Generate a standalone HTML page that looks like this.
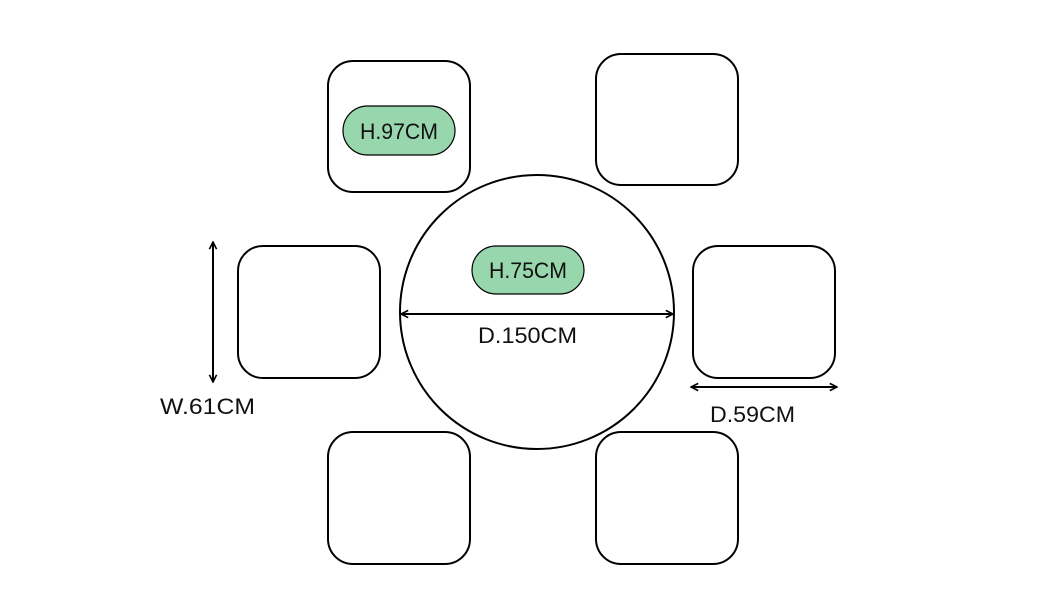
<!DOCTYPE html>
<html><head><style>html,body{margin:0;padding:0;background:#fff}</style></head><body>
<svg width="1056" height="600" viewBox="0 0 1056 600" xmlns="http://www.w3.org/2000/svg">
<defs>
<marker id="a" viewBox="0 0 10 10" refX="9" refY="5" markerWidth="9" markerHeight="9" orient="auto-start-reverse" markerUnits="userSpaceOnUse">
<path d="M1,1 L9,5 L1,9" fill="none" stroke="#000" stroke-width="1.8"/>
</marker>
</defs>
<g fill="#fff" stroke="#000" stroke-width="2">
<rect x="328" y="61" width="142" height="131" rx="25"/>
<rect x="596" y="54" width="142" height="131" rx="25"/>
<rect x="238" y="246" width="142" height="132" rx="25"/>
<rect x="693" y="246" width="142" height="132" rx="25"/>
<rect x="328" y="432" width="142" height="132" rx="25"/>
<rect x="596" y="432" width="142" height="132" rx="25"/>
<circle cx="537" cy="312" r="137"/>
</g>
<g fill="#98d7ad" stroke="#000" stroke-width="1.2">
<rect x="343" y="106" width="112" height="49" rx="24.5"/>
<rect x="472" y="246" width="112" height="48" rx="24"/>
</g>
<g stroke="#000" stroke-width="2" fill="none">
<line x1="401" y1="314" x2="673" y2="314" marker-start="url(#a)" marker-end="url(#a)"/>
<line x1="213" y1="242" x2="213" y2="382" marker-start="url(#a)" marker-end="url(#a)"/>
<line x1="691" y1="387" x2="837" y2="387" marker-start="url(#a)" marker-end="url(#a)"/>
</g>
<g font-family="Liberation Sans, sans-serif" font-size="22" fill="#111">
<text x="360" y="139" textLength="78" lengthAdjust="spacingAndGlyphs">H.97CM</text>
<text x="489" y="278" textLength="78" lengthAdjust="spacingAndGlyphs">H.75CM</text>
<text x="478" y="343" textLength="99" lengthAdjust="spacingAndGlyphs">D.150CM</text>
<text x="160" y="414" textLength="95" lengthAdjust="spacingAndGlyphs">W.61CM</text>
<text x="710" y="422" textLength="85" lengthAdjust="spacingAndGlyphs">D.59CM</text>
</g>
</svg>
</body></html>
